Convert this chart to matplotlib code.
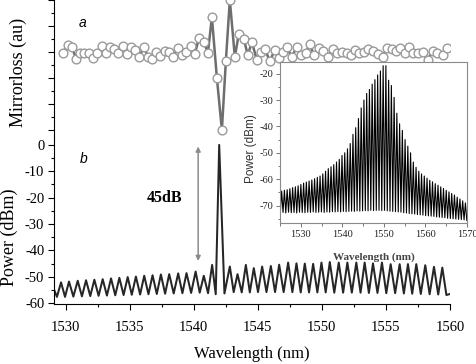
import numpy as np
import matplotlib
matplotlib.use("Agg")
import matplotlib.pyplot as plt
from matplotlib.ticker import MultipleLocator

plt.rcParams['axes.unicode_minus'] = False
SERIF = ['Liberation Serif', 'DejaVu Serif']
SANS = ['Liberation Sans', 'DejaVu Sans']

# ---------------- panel a: mirror loss (a.u.) ----------------
mirror_wl = [1529.81, 1530.19, 1530.51, 1530.82, 1531.13, 1531.44, 1531.83, 1532.14, 1532.46, 1532.84,
             1533.16, 1533.47, 1533.78, 1534.09, 1534.48, 1534.79, 1535.11, 1535.42, 1535.73, 1536.12,
             1536.43, 1536.74, 1537.05, 1537.37, 1537.76, 1538.07, 1538.38, 1538.77, 1539.08, 1539.39,
             1539.78, 1540.09, 1540.41, 1540.80, 1541.11, 1541.42, 1541.81, 1542.20, 1542.51, 1542.82,
             1543.21, 1543.52, 1543.91, 1544.22, 1544.54, 1544.93, 1545.24, 1545.55, 1545.94, 1546.33,
             1546.64, 1546.95, 1547.26, 1547.65, 1548.04, 1548.36, 1548.75, 1549.06, 1549.37, 1549.76,
             1550.07, 1550.46, 1550.85, 1551.16, 1551.55, 1551.94, 1552.25, 1552.56, 1552.88, 1553.27,
             1553.58, 1553.97, 1554.36, 1554.75, 1555.06, 1555.45, 1555.76, 1556.07, 1556.46, 1556.77,
             1557.09, 1557.47, 1557.86, 1558.25, 1558.64, 1558.96, 1559.42, 1559.74]
mirror_loss = [2.96, 3.27, 3.19, 2.73, 2.96, 2.96, 2.96, 2.77, 2.96, 3.23,
               2.96, 3.19, 3.12, 2.96, 3.23, 2.92, 3.19, 3.08, 2.81, 3.19,
               2.81, 2.73, 3.00, 2.85, 3.04, 3.00, 2.81, 3.15, 2.88, 3.00,
               3.23, 2.92, 3.54, 3.38, 2.96, 4.35, 2.00, 0.00, 2.65, 5.00,
               2.81, 3.69, 3.50, 2.88, 3.38, 2.69, 3.00, 3.12, 2.65, 3.08,
               2.77, 3.00, 3.19, 2.81, 3.19, 2.88, 2.96, 3.31, 2.88, 3.15,
               3.04, 2.81, 3.12, 2.96, 3.00, 2.96, 2.88, 3.08, 2.96, 3.00,
               3.12, 3.04, 2.92, 2.81, 3.15, 3.12, 3.04, 3.15, 2.96, 3.19,
               2.96, 2.96, 3.00, 2.69, 3.04, 2.96, 2.88, 3.15]

# ---------------- panel b: laser spectrum ----------------
peak_wl = [1529.65, 1530.27, 1530.95, 1531.60, 1532.25, 1532.90, 1533.55, 1534.20, 1534.85, 1535.49,
           1536.14, 1536.79, 1537.44, 1538.09, 1538.79, 1539.44, 1540.15, 1540.79, 1541.44, 1541.99,
           1542.82, 1543.42, 1544.07, 1544.69, 1545.34, 1546.02, 1546.67, 1547.37, 1548.02, 1548.67,
           1549.32, 1549.97, 1550.62, 1551.32, 1551.99, 1552.69, 1553.34, 1553.99, 1554.69, 1555.37,
           1556.07, 1556.72, 1557.37, 1558.07, 1558.75, 1559.40]
peak_db = [-52.1, -51.8, -51.5, -51.3, -51.1, -50.9, -50.6, -50.4, -50.1, -49.9,
           -49.6, -49.4, -49.1, -49.0, -48.7, -48.6, -48.0, -49.6, -45.5, 0.0,
           -46.1, -49.0, -45.5, -46.7, -46.1, -45.9, -45.4, -44.6, -44.9, -45.0,
           -45.1, -44.6, -44.4, -44.6, -44.6, -44.6, -44.6, -44.9, -44.6, -45.2,
           -45.2, -45.2, -45.2, -45.6, -46.2, -46.5]
trough_wl = [1529.33, 1529.96, 1530.61, 1531.28, 1531.93, 1532.58, 1533.23, 1533.88, 1534.53, 1535.17,
             1535.82, 1536.47, 1537.12, 1537.77, 1538.44, 1539.12, 1539.80, 1540.47, 1541.12, 1541.72,
             1542.40, 1543.12, 1543.75, 1544.38, 1545.02, 1545.68, 1546.35, 1547.02, 1547.70, 1548.35,
             1549.00, 1549.65, 1550.30, 1550.97, 1551.66, 1552.34, 1553.02, 1553.67, 1554.34, 1555.03,
             1555.72, 1556.40, 1557.05, 1557.72, 1558.41, 1559.08, 1559.72]
trough_db = [-57.6, -57.6, -57.5, -57.4, -57.3, -57.2, -57.1, -57.0, -56.9, -56.8,
             -56.7, -56.6, -56.5, -56.4, -56.3, -56.2, -56.1, -56.0, -56.2, -56.6,
             -56.3, -55.8, -55.9, -55.9, -55.8, -55.8, -55.8, -55.8, -55.8, -55.9,
             -55.9, -55.9, -55.9, -56.0, -56.0, -56.0, -56.0, -56.1, -56.1, -56.2,
             -56.2, -56.3, -56.4, -56.5, -56.6, -56.7, -56.9]
edge_wl = [1529.10, 1560.00]
edge_db = [-54.8, -56.5]

# ---------------- inset: broadband comb spectrum ----------------
inset_peak_wl = [1525.40, 1526.06, 1526.72, 1527.38, 1528.04, 1528.70, 1529.36, 1530.02, 1530.68, 1531.34,
                 1532.00, 1532.66, 1533.32, 1533.98, 1534.64, 1535.30, 1535.96, 1536.62, 1537.28, 1537.94,
                 1538.60, 1539.26, 1539.92, 1540.58, 1541.24, 1541.90, 1542.56, 1543.22, 1543.88, 1544.54,
                 1545.20, 1545.86, 1546.52, 1547.18, 1547.84, 1548.50, 1549.16, 1549.82, 1550.48, 1551.14,
                 1551.80, 1552.46, 1553.12, 1553.78, 1554.44, 1555.10, 1555.76, 1556.42, 1557.08, 1557.74,
                 1558.40, 1559.06, 1559.72, 1560.38, 1561.04, 1561.70, 1562.36, 1563.02, 1563.68, 1564.34,
                 1565.00, 1565.66, 1566.32, 1566.98, 1567.64, 1568.30, 1568.96, 1569.62]
inset_peak_db = [-64.5, -64.2, -64.0, -63.6, -63.2, -62.9, -62.5, -62.0, -61.5, -61.1,
                 -60.7, -60.3, -59.8, -59.3, -58.8, -58.0, -57.0, -56.0, -55.3, -54.5,
                 -53.5, -52.5, -51.0, -50.0, -48.5, -46.5, -43.0, -40.5, -37.0, -33.0,
                 -30.0, -27.5, -26.0, -24.0, -22.3, -20.5, -19.0, -17.0, -17.0, -22.5,
                 -24.5, -29.0, -35.0, -39.0, -41.5, -45.0, -47.5, -50.0, -53.5, -55.5,
                 -57.0, -58.0, -58.8, -59.6, -60.4, -61.0, -61.7, -62.3, -62.9, -63.5,
                 -64.2, -64.8, -65.4, -66.0, -66.8, -67.5, -68.2, -69.0]
inset_trough_wl = [1525.07, 1525.73, 1526.39, 1527.05, 1527.71, 1528.37, 1529.03, 1529.69, 1530.35, 1531.01,
                   1531.67, 1532.33, 1532.99, 1533.65, 1534.31, 1534.97, 1535.63, 1536.29, 1536.95, 1537.61,
                   1538.27, 1538.93, 1539.59, 1540.25, 1540.91, 1541.57, 1542.23, 1542.89, 1543.55, 1544.21,
                   1544.87, 1545.53, 1546.19, 1546.85, 1547.51, 1548.17, 1548.83, 1549.49, 1550.15, 1550.81,
                   1551.47, 1552.13, 1552.79, 1553.45, 1554.11, 1554.77, 1555.43, 1556.09, 1556.75, 1557.41,
                   1558.07, 1558.73, 1559.39, 1560.05, 1560.71, 1561.37, 1562.03, 1562.69, 1563.35, 1564.01,
                   1564.67, 1565.33, 1565.99, 1566.65, 1567.31, 1567.97, 1568.63, 1569.29, 1569.95]
inset_trough_db = [-72.8, -72.6, -72.8, -72.5, -72.7, -72.6, -72.8, -72.5, -72.6, -72.7,
                   -72.5, -72.6, -72.4, -72.6, -72.5, -72.4, -72.6, -72.4, -72.5, -72.3,
                   -72.4, -72.3, -72.4, -72.2, -72.3, -72.2, -72.1, -72.2, -72.0, -72.1,
                   -72.0, -71.9, -72.0, -71.8, -71.9, -71.8, -71.8, -71.9, -71.8, -72.0,
                   -72.1, -72.2, -72.3, -72.4, -72.5, -72.7,
                   -72.8, -73.0, -73.1, -73.2, -73.4, -73.5, -73.6, -73.8, -73.9, -74.0,
                   -74.1, -74.3, -74.4, -74.5, -74.6, -74.8, -74.9, -75.0, -75.1, -75.2,
                   -75.3, -75.4, -75.6]

main_xticks = [1530, 1535, 1540, 1545, 1550, 1555, 1560]
main_yticks = [0, -10, -20, -30, -40, -50, -60]
inset_xticks = [1530, 1540, 1550, 1560, 1570]
inset_yticks = [-20, -30, -40, -50, -60, -70]


def interleave(tw, td, pw, pd):
    n = len(pw)
    xs = np.empty(2 * n + 1)
    ys = np.empty(2 * n + 1)
    xs[0::2] = tw
    ys[0::2] = td
    xs[1::2] = pw
    ys[1::2] = pd
    return xs, ys


W, H = 476, 364
fig = plt.figure(figsize=(W / 100, H / 100), dpi=100)


def frac(l, t, r, b):
    return [l / W, 1 - b / H, (r - l) / W, (b - t) / H]


# lower panel
axb = fig.add_axes(frac(54, 137, 450, 304))
sx, sy = interleave(trough_wl, trough_db, peak_wl, peak_db)
sx = np.concatenate([[edge_wl[0]], sx, [edge_wl[1]]])
sy = np.concatenate([[edge_db[0]], sy, [edge_db[1]]])
axb.plot(sx, sy, color='#262626', lw=1.45, solid_joinstyle='round')
axb.set_xlim(1529.1, 1560.0)
axb.set_ylim(-60.3, 3.0)
axb.spines['top'].set_visible(False)
axb.spines['right'].set_visible(False)
axb.set_xticks(main_xticks)
axb.set_yticks(main_yticks)
axb.xaxis.set_minor_locator(MultipleLocator(2.5))
axb.yaxis.set_minor_locator(MultipleLocator(5))
axb.tick_params(which='major', direction='out', length=4, width=0.8, labelsize=10.5, pad=3)
axb.tick_params(which='minor', direction='out', length=2.5, width=0.8)
axb.tick_params(axis='x', which='major', pad=8)
for lab in axb.get_xticklabels() + axb.get_yticklabels():
    lab.set_fontfamily(SERIF)
axb.set_xlabel('Wavelength (nm)', fontsize=12, family=SERIF, labelpad=9)
axb.text(1531.44, -5.3, 'b', fontsize=10, style='italic', family=SANS, ha='center', va='center')
axb.text(1537.72, -20.0, '45dB', fontsize=11.5, weight='bold', family=SERIF, ha='center', va='center')
axb.annotate('', xy=(1540.35, -0.6), xytext=(1540.35, -44.0),
             arrowprops=dict(arrowstyle='<|-|>', color='#8c8c8c', lw=1.1, mutation_scale=7,
                             shrinkA=0, shrinkB=0))

# upper panel
axa = fig.add_axes(frac(54, 0, 450, 137))
axa.plot(mirror_wl, mirror_loss, '-o', color='#6e6e6e', lw=1.8, ms=6.3, mfc='white',
         mec='#9a9a9a', mew=1.0)
axa.set_xlim(1529.1, 1560.0)
axa.set_ylim(-0.27, 5.0)
for s in ['top', 'right', 'bottom']:
    axa.spines[s].set_visible(False)
axa.set_xticks([])
axa.yaxis.set_major_locator(MultipleLocator(1.0))
axa.yaxis.set_minor_locator(MultipleLocator(0.5))
axa.tick_params(axis='y', which='major', direction='out', length=4, width=0.8, labelleft=False)
axa.tick_params(axis='y', which='minor', direction='out', length=2.5, width=0.8)
axa.patch.set_alpha(0)
axa.text(1531.36, 4.12, 'a', fontsize=10, style='italic', family=SANS, ha='center', va='center')

fig.text(18 / W, 1 - 72 / H, 'Mirrorloss (au)', rotation=90, fontsize=13, family=SERIF,
         ha='center', va='center')
fig.text(9 / W, 1 - 237 / H, 'Power (dBm)', rotation=90, fontsize=13, family=SERIF,
         ha='center', va='center')

# inset
axi = fig.add_axes(frac(280, 62, 467, 223))
ix, iy = interleave(inset_trough_wl, inset_trough_db, inset_peak_wl, inset_peak_db)
axi.plot(ix, iy, color='black', lw=0.8)
axi.set_xlim(1525.0, 1570.0)
axi.set_ylim(-76.6, -15.6)
for s in axi.spines.values():
    s.set_color('#8a8a8a')
    s.set_linewidth(0.8)
axi.set_xticks(inset_xticks)
axi.set_yticks(inset_yticks)
axi.xaxis.set_minor_locator(MultipleLocator(5))
axi.yaxis.set_minor_locator(MultipleLocator(5))
axi.tick_params(which='major', direction='out', length=3, width=0.7, color='#777777',
                labelsize=7.5, labelcolor='#222222', pad=2)
axi.tick_params(which='minor', direction='out', length=1.8, width=0.7, color='#777777')
for lab in axi.get_xticklabels() + axi.get_yticklabels():
    lab.set_fontfamily(SERIF)
fig.text(251 / W, 1 - 149 / H, 'Power (dBm)', rotation=90, fontsize=8.5, family=SANS,
         color='#333333', ha='center', va='center')
fig.text(374 / W, 1 - 257 / H, 'Wavelength (nm)', fontsize=8, family=SERIF, weight='bold',
         color='#444444', ha='center', va='center')

fig.savefig('out.png', dpi=100)
